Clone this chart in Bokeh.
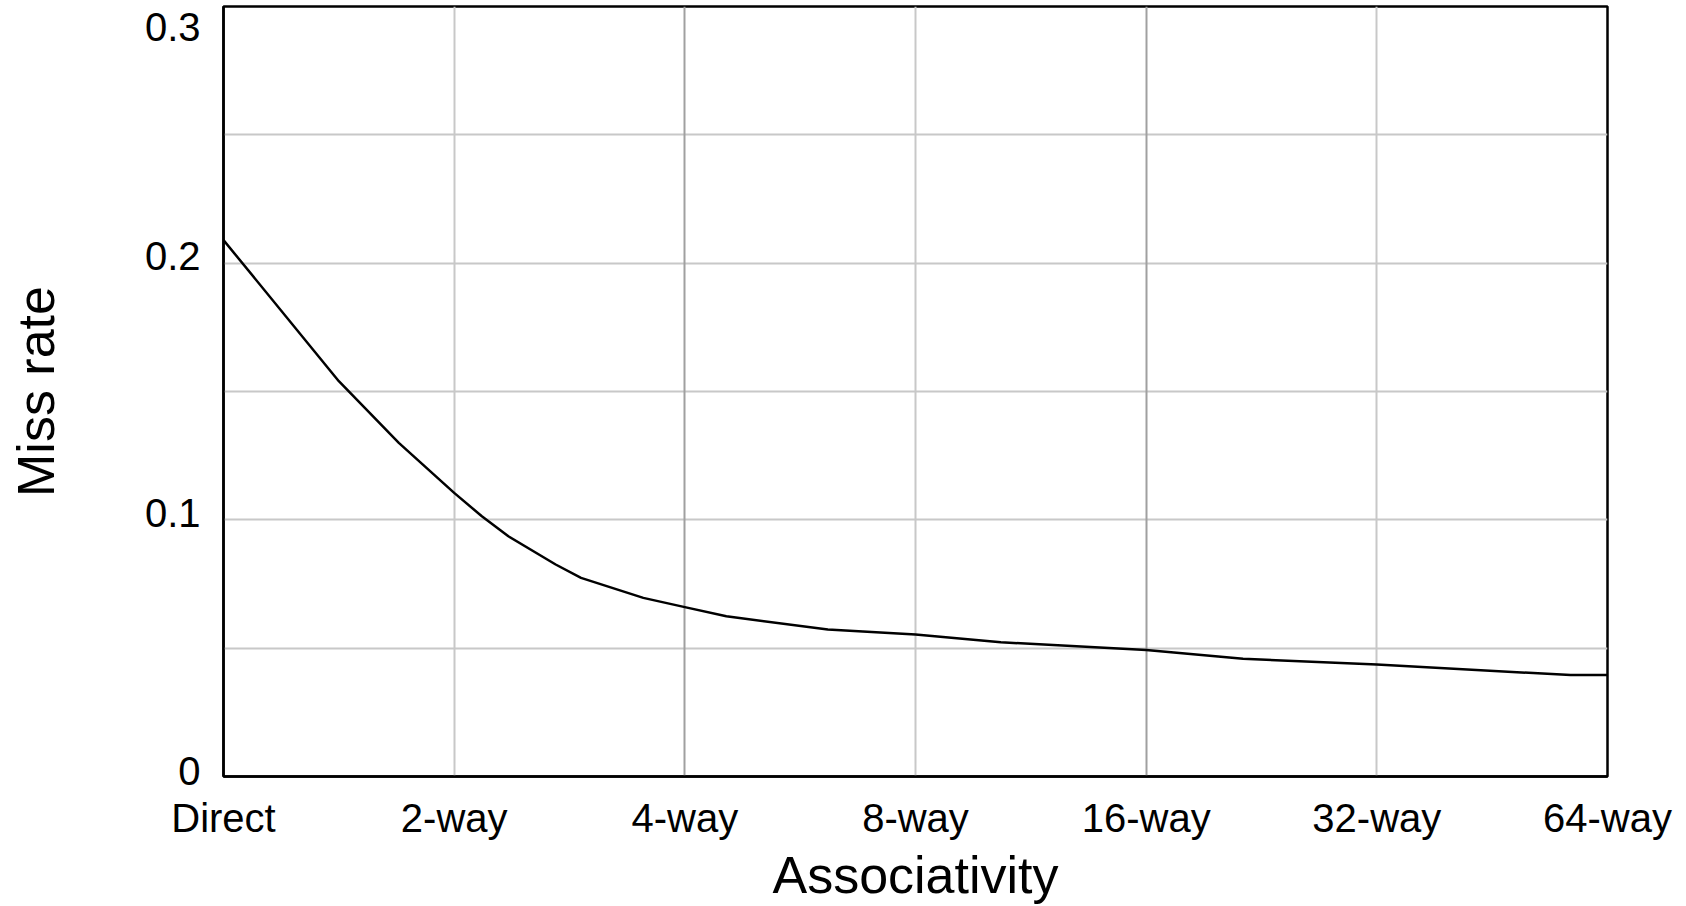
from bokeh.plotting import figure
from bokeh.models import FixedTicker, Grid, Range1d
from bokeh.embed import file_html
from bokeh.resources import INLINE

# ---- data ----
categories = ["Direct", "2-way", "4-way", "8-way", "16-way", "32-way", "64-way"]
assoc_pos = [0, 0.5, 0.76, 1.0, 1.12, 1.235, 1.44, 1.55, 1.82, 2.0, 2.18,
             2.62, 3.0, 3.37, 4.0, 4.42, 5.0, 5.84, 6.0]
miss_rate = [0.209, 0.154, 0.130, 0.1105, 0.1014, 0.0936, 0.0826, 0.0774,
             0.0696, 0.066, 0.0624, 0.0573, 0.0553, 0.0523, 0.0493, 0.0459,
             0.0436, 0.0395, 0.0395]
y_tick_values = [0, 0.1, 0.2, 0.3]
y_tick_labels = ["0", "0.1", "0.2", "0.3"]
y_grid_values = [0.05, 0.1, 0.15, 0.2, 0.25]
x_light_grid = [1, 3, 5]
x_dark_grid = [2, 4]

FONT = "Liberation Sans"
W, H = 1686, 906
BL, BR, BT, BB = 223, 79, 6, 130
frame_h = H - BT - BB
Y0, Y1 = 0, 0.3

# label placement (screen px, positive = up) to mimic Excel-style label offsets
label_shift_px = [6, 7, 7, -20]
px_to_y = (Y1 - Y0) / frame_h
label_pos = [v + s * px_to_y for v, s in zip(y_tick_values, label_shift_px)]

p = figure(width=W, height=H, output_backend="svg", toolbar_location=None,
           x_range=Range1d(0, len(categories) - 1), y_range=Range1d(Y0, Y1),
           min_border_left=BL, min_border_right=BR, min_border_top=BT,
           min_border_bottom=BB)

p.background_fill_color = "white"
p.border_fill_color = "white"
p.outline_line_color = "black"
p.outline_line_width = 2.5

# grids
p.xgrid.ticker = FixedTicker(ticks=x_light_grid)
p.xgrid.grid_line_color = "#c8c8c8"
p.xgrid.grid_line_width = 2
p.ygrid.ticker = FixedTicker(ticks=y_grid_values)
p.ygrid.grid_line_color = "#c8c8c8"
p.ygrid.grid_line_width = 2
dark = Grid(dimension=0, ticker=FixedTicker(ticks=x_dark_grid),
            grid_line_color="#a0a0a0", grid_line_width=2)
p.add_layout(dark)

# x axis
xa = p.xaxis[0]
xa.ticker = FixedTicker(ticks=list(range(len(categories))))
xa.major_label_overrides = {i: c for i, c in enumerate(categories)}
xa.axis_label = "Associativity"
# y axis
ya = p.yaxis[0]
ya.ticker = FixedTicker(ticks=label_pos)
ya.major_label_overrides = {pos: l for pos, l in zip(label_pos, y_tick_labels)}
ya.axis_label = "Miss rate"

for ax in (xa, ya):
    ax.axis_line_color = "black"
    ax.axis_line_width = 2.5
    ax.major_tick_line_color = None
    ax.minor_tick_line_color = None
    ax.major_tick_out = 0
    ax.major_tick_in = 0
    ax.minor_tick_out = 0
    ax.minor_tick_in = 0
    ax.major_label_text_font = FONT
    ax.major_label_text_font_size = "40px"
    ax.major_label_text_color = "black"
    ax.axis_label_text_font = FONT
    ax.axis_label_text_font_size = "52px"
    ax.axis_label_text_font_style = "normal"
    ax.axis_label_text_color = "black"

xa.major_label_standoff = 19
xa.axis_label_standoff = 3
ya.major_label_standoff = 23
ya.axis_label_standoff = 77

p.line(assoc_pos, miss_rate, line_color="black", line_width=2.5)

open("out.html", "w").write(file_html(p, INLINE))
